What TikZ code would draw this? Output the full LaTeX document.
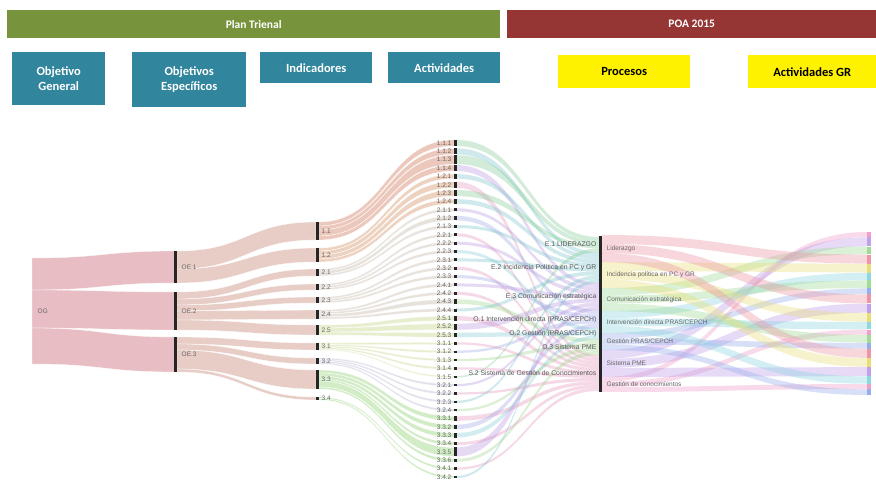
\documentclass[tikz,border=0pt]{standalone}
\usepackage{fontspec}
\setmainfont{Carlito}
\newfontfamily\lblfont{Liberation Sans}
\definecolor{plangreen}{RGB}{119,147,60}
\definecolor{poared}{RGB}{150,54,52}
\definecolor{boxblue}{RGB}{49,133,156}
\definecolor{oglink}{RGB}{232,190,196}
\definecolor{oelink}{RGB}{232,204,198}
\definecolor{ica}{RGB}{236,200,188}
\definecolor{icb}{RGB}{238,210,192}
\definecolor{icc}{RGB}{232,226,220}
\definecolor{icd}{RGB}{230,238,206}
\definecolor{ice}{RGB}{224,224,236}
\definecolor{icf}{RGB}{210,236,198}
\definecolor{ap1}{RGB}{120,200,140}
\definecolor{ap2}{RGB}{110,190,200}
\definecolor{ap3}{RGB}{180,140,220}
\definecolor{ap4}{RGB}{150,160,230}
\definecolor{ap5}{RGB}{120,200,210}
\definecolor{ap6}{RGB}{150,210,130}
\definecolor{ap7}{RGB}{230,140,180}
\definecolor{pc1}{RGB}{238,150,165}
\definecolor{pc2}{RGB}{232,222,120}
\definecolor{pc3}{RGB}{160,220,150}
\definecolor{pc4}{RGB}{140,215,225}
\definecolor{pc5}{RGB}{150,175,235}
\definecolor{pc6}{RGB}{190,160,235}
\definecolor{pc7}{RGB}{238,160,200}
\newcommand\skband[7]{\fill[#7] (#1,#2) .. controls ({(#1+#4)/2},#2) and ({(#1+#4)/2},#5) .. (#4,#5) -- (#4,#6) .. controls ({(#1+#4)/2},#6) and ({(#1+#4)/2},#3) .. (#1,#3) -- cycle;}
\begin{document}
\begin{tikzpicture}[x=1pt,y=-1pt,
  hdr/.style={font=\bfseries\fontsize{11.5}{12}\selectfont, text=white, inner sep=0pt, anchor=north west},
  bbox/.style={fill=boxblue, text=white, font=\bfseries\fontsize{12.5}{15}\selectfont, align=center, inner sep=0pt, anchor=north west},
  ybox/.style={fill=yellow, text=black, font=\bfseries\fontsize{12.5}{15}\selectfont, inner sep=0pt, anchor=north west},
  lbl/.style={font=\lblfont\fontsize{6.5}{7}\selectfont, text=black!60, inner sep=0.5pt},
  plbl/.style={font=\lblfont\fontsize{6.8}{7}\selectfont, text=black!65, inner sep=0.5pt},
  lnk/.style={draw=white, line width=0.3pt},
  bar/.style={fill=black!85}
]
\useasboundingbox (0,0) rectangle (876,481);
\fill[white] (0,0) rectangle (876,481);
% headers
\node[hdr, fill=plangreen, minimum width=493pt, minimum height=28pt] (plan) at (7,10) {Plan Trienal};
\node[hdr, fill=poared, minimum width=369pt, minimum height=28pt] (poa) at (507,10) {POA 2015};
\node[bbox, minimum width=93pt, minimum height=53pt] (og) at (12,52) {Objetivo\\General};
\node[bbox, minimum width=114pt, minimum height=55pt] (oe) at (132,52) {Objetivos\\Específicos};
\node[bbox, minimum width=112pt, minimum height=31pt] (ind) at (260,52) {Indicadores};
\node[bbox, minimum width=112pt, minimum height=31pt] (act) at (388,52) {Actividades};
\node[ybox, minimum width=132pt, minimum height=33pt] (proc) at (558,55) {Procesos};
\node[ybox, minimum width=128pt, minimum height=33pt] (actgr) at (748,55) {Actividades GR};
% OG -> OE
\skband{32}{258}{290}{175}{251}{283}{oglink,lnk}
\skband{32}{290}{328}{175}{292}{330}{oglink,lnk}
\skband{32}{328}{364}{175}{337}{372}{oglink,lnk}
% OE -> indicators
\foreach \sa/\sb/\ta/\tb in {251/269/222/240, 269/283/248/262, 292/299/269/276, 299/305/284/290, 305/311/297/303, 311/320/310/319, 320/330/325/335, 337/344/343/350, 344/350/358/364, 350/369/370/389, 369/372/397/400}{
  \skband{177}{\sa}{\sb}{316}{\ta}{\tb}{oelink,lnk}
}
% process data (left chart)
\expandafter\def\csname ptop1\endcsname{237}\expandafter\def\csname ph1\endcsname{3.75}
\expandafter\def\csname ptop2\endcsname{252}\expandafter\def\csname ph2\endcsname{3.875}
\expandafter\def\csname ptop3\endcsname{283}\expandafter\def\csname ph3\endcsname{3.857}
\expandafter\def\csname ptop4\endcsname{310}\expandafter\def\csname ph4\endcsname{4.5}
\expandafter\def\csname ptop5\endcsname{328}\expandafter\def\csname ph5\endcsname{3.667}
\expandafter\def\csname ptop6\endcsname{339}\expandafter\def\csname ph6\endcsname{4}
\expandafter\def\csname ptop7\endcsname{355}\expandafter\def\csname ph7\endcsname{3.273}
\foreach \i in {1,...,7}{\expandafter\xdef\csname poff\i\endcsname{0}\expandafter\xdef\csname qo\i\endcsname{0}}
% activities
\foreach \k/\lab/\h/\s/\p/\c in {0/1.1.1/4/222/1/ica, 1/1.1.2/4/226/2/ica, 2/1.1.3/6/230/1/ica, 3/1.1.4/4/236/3/ica,
 4/1.2.1/3/248/2/icb, 5/1.2.2/4/251/7/icb, 6/1.2.3/4/255/1/icb, 7/1.2.4/3/259/2/icb,
 8/2.1.1/2/269/3/icc, 9/2.1.2/3/271/4/icc, 10/2.1.3/2/274/2/icc,
 11/2.2.1/2/284/7/icc, 12/2.2.2/2/286/3/icc, 13/2.2.3/2/288/5/icc,
 14/2.3.1/2/297/2/icc, 15/2.3.2/2/299/7/icc, 16/2.3.3/2/301/4/icc,
 17/2.4.1/2/310/3/icc, 18/2.4.2/2/312/7/icc, 19/2.4.3/3/314/6/icc, 20/2.4.4/2/317/2/icc,
 21/2.5.1/3/325/7/icd, 22/2.5.2/4/328/3/icd, 23/2.5.3/3/332/5/icd,
 24/3.1.1/1.5/343/7/icd, 25/3.1.2/1.5/344.5/4/icd, 26/3.1.3/1.5/346/6/icd, 27/3.1.4/1.5/347.5/7/icd, 28/3.1.5/1/349/1/icd,
 29/3.2.1/1.5/358/3/ice, 30/3.2.2/1.5/359.5/7/ice, 31/3.2.3/1.5/361/2/ice, 32/3.2.4/1.5/362.5/6/ice,
 33/3.3.1/3/370/7/icf, 34/3.3.2/3/373/4/icf, 35/3.3.3/3/376/5/icf, 36/3.3.4/2/379/7/icf, 37/3.3.5/6/381/3/icf, 38/3.3.6/2/387/6/icf,
 39/3.4.1/1.5/397/7/icf, 40/3.4.2/1.5/398.5/2/icf}{
  \pgfmathsetmacro\cy{143+\k*8.35}
  \pgfmathsetmacro\ta{\cy-\h*0.75}
  \pgfmathsetmacro\tb{\cy+\h*0.75}
  \pgfmathsetmacro\sb{\s+\h}
  \skband{318.5}{\s}{\sb}{454}{\ta}{\tb}{\c,lnk}
  \edef\ptp{\csname ptop\p\endcsname}
  \edef\pof{\csname poff\p\endcsname}
  \edef\phh{\csname ph\p\endcsname}
  \pgfmathsetmacro\pa{\ptp+\pof}
  \pgfmathsetmacro\pb{\pa+\phh}
  \skband{456}{\ta}{\tb}{599}{\pa}{\pb}{ap\p,fill opacity=0.33}
  \pgfmathsetmacro\tmp{\pof+\phh}
  \expandafter\xdef\csname poff\p\endcsname{\tmp}
  \pgfmathsetmacro\ba{\cy-max(\h*0.75,1.2)}
  \pgfmathsetmacro\bb{\cy+max(\h*0.75,1.2)}
  \fill[bar] (454,\ba) rectangle (456.5,\bb);
  \node[lbl, anchor=east] (a\k) at (452,\cy) {\lab};
}
% right chart: processes -> Actividades GR
\expandafter\def\csname qt1\endcsname{235}\expandafter\def\csname qh1\endcsname{27}
\expandafter\def\csname qt2\endcsname{262}\expandafter\def\csname qh2\endcsname{26}
\expandafter\def\csname qt3\endcsname{288}\expandafter\def\csname qh3\endcsname{23}
\expandafter\def\csname qt4\endcsname{311}\expandafter\def\csname qh4\endcsname{22}
\expandafter\def\csname qt5\endcsname{333}\expandafter\def\csname qh5\endcsname{17}
\expandafter\def\csname qt6\endcsname{350}\expandafter\def\csname qh6\endcsname{27}
\expandafter\def\csname qt7\endcsname{377}\expandafter\def\csname qh7\endcsname{15}
\xdef\ry{232}
\foreach \r/\p in {0/7,1/6,2/3,3/1,4/2,5/4,6/3,7/5,8/1,9/6,10/2,11/4,12/7,13/3,14/5,15/1,16/2,17/6,18/4,19/7,20/5}{
  \edef\qtt{\csname qt\p\endcsname}
  \edef\qoo{\csname qo\p\endcsname}
  \edef\qhh{\csname qh\p\endcsname}
  \pgfmathsetmacro\qh{\qhh/3}
  \pgfmathsetmacro\qa{\qtt+\qoo}
  \pgfmathsetmacro\qb{\qa+\qh}
  \pgfmathsetmacro\rb{\ry+\qh}
  \skband{602}{\qa}{\qb}{867}{\ry}{\rb}{pc\p,fill opacity=0.38}
  \fill[pc\p] (867,\ry) rectangle (871,\rb);
  \pgfmathsetmacro\tmp{\qoo+\qh}
  \expandafter\xdef\csname qo\p\endcsname{\tmp}
  \pgfmathsetmacro\tmp{\rb+0.3}
  \xdef\ry{\tmp}
}
% bars
\fill[bar] (174,251) rectangle (176.5,283);
\fill[bar] (174,292) rectangle (176.5,330);
\fill[bar] (174,337) rectangle (176.5,372);
\foreach \ta/\tb in {222/240, 248/262, 269/276, 284/290, 297/303, 310/319, 325/335, 343/350, 358/364, 370/389, 397/400}{
  \fill[bar] (316,\ta) rectangle (318.5,\tb);
}
\fill[bar] (599,236) rectangle (601.5,392);
% labels
\node[lbl, anchor=west] (lOG) at (37,311) {OG};
\node[lbl, anchor=west] (lOE1) at (181,267) {OE.1};
\node[lbl, anchor=west] (lOE2) at (181,311) {OE.2};
\node[lbl, anchor=west] (lOE3) at (181,354) {OE.3};
\foreach \y/\t [count=\n] in {231/1.1, 255/1.2, 272.5/2.1, 287/2.2, 300/2.3, 314.5/2.4, 330/2.5, 346.5/3.1, 361/3.2, 379.5/3.3, 398.5/3.4}{
  \node[lbl, anchor=west] (i\n) at (321,\y) {\t};
}
\node[plbl, anchor=east] (p1) at (597,244.5) {E.1 LIDERAZGO};
\node[plbl, anchor=east] (p2) at (597,267.5) {E.2 Incidencia Política en PC y GR};
\node[plbl, anchor=east] (p3) at (597,296.5) {E.3 Comunicación estratégica};
\node[plbl, anchor=east] (p4) at (597,320) {O.1 Intervención directa (PRAS/CEPCH)};
\node[plbl, anchor=east] (p5) at (597,334) {O.2 Gestión (PRAS/CEPCH)};
\node[plbl, anchor=east] (p6) at (597,347) {O.3 Sistema PME};
\node[plbl, anchor=east] (p7) at (597,373) {S.2 Sistema de Gestión de Conocimientos};
\node[lbl, anchor=west] (q1) at (606,248.5) {Liderazgo};
\node[lbl, anchor=west] (q2) at (606,275) {Incidencia política en PC y GR};
\node[lbl, anchor=west] (q3) at (606,299.5) {Comunicación estratégica};
\node[lbl, anchor=west] (q4) at (606,322) {Intervención directa PRAS/CEPCH};
\node[lbl, anchor=west] (q5) at (606,341.5) {Gestión PRAS/CEPCH};
\node[lbl, anchor=west] (q6) at (606,363.5) {Sistema PME};
\node[lbl, anchor=west] (q7) at (606,384.5) {Gestión de conocimientos};
\end{tikzpicture}
\end{document}
